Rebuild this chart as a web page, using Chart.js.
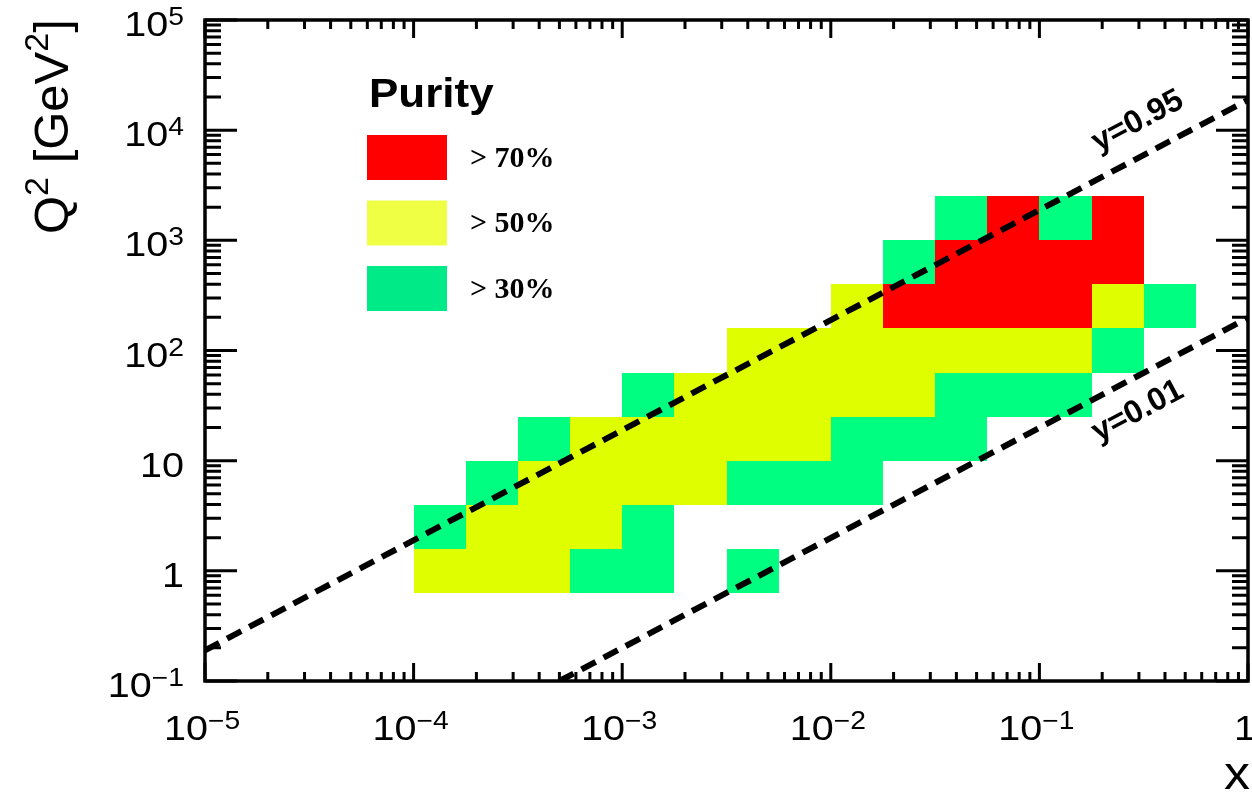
<!DOCTYPE html>
<html>
<head>
<meta charset="utf-8">
<script src="https://cdn.jsdelivr.net/npm/chart.js@4.4.1/dist/chart.umd.min.js"></script>
<style>
  html, body { margin: 0; padding: 0; background: #fff; }
  #wrap { width: 1252px; height: 792px; }
</style>
</head>
<body>
<div id="wrap"><canvas id="purity" width="1252" height="792"></canvas></div>
<script>
// bin edges, log10 units
const logXEdges = [-4, -3.75, -3.5, -3.25, -3, -2.75, -2.5, -2.25, -2, -1.75, -1.5, -1.25, -1, -0.75, -0.5, -0.25, 0]
const logQ2Edges = [-0.2, 0.2, 0.6, 1.0, 1.4, 1.8, 2.2, 2.6, 3.0, 3.4]

// purity class of every bin, lowest Q2 row first: 0 empty, 1 >30%, 2 >50%, 3 >70%
const purityRows = [
  [2, 2, 2, 1, 1, 0, 1, 0, 0, 0, 0, 0, 0, 0, 0, 0],
  [1, 2, 2, 2, 1, 0, 0, 0, 0, 0, 0, 0, 0, 0, 0, 0],
  [0, 1, 2, 2, 2, 2, 1, 1, 1, 0, 0, 0, 0, 0, 0, 0],
  [0, 0, 1, 2, 2, 2, 2, 2, 1, 1, 1, 0, 0, 0, 0, 0],
  [0, 0, 0, 0, 1, 2, 2, 2, 2, 2, 1, 1, 1, 0, 0, 0],
  [0, 0, 0, 0, 0, 0, 2, 2, 2, 2, 2, 2, 2, 1, 0, 0],
  [0, 0, 0, 0, 0, 0, 0, 0, 2, 3, 3, 3, 3, 2, 1, 0],
  [0, 0, 0, 0, 0, 0, 0, 0, 0, 1, 3, 3, 3, 3, 0, 0],
  [0, 0, 0, 0, 0, 0, 0, 0, 0, 0, 1, 3, 1, 3, 0, 0]
]

const purityLabels = ['> 70%', '> 50%', '> 30%']
const purityClasses = [3, 2, 1]

// kinematic limits Q2 = s x y, end points
const y95Line = [{ x: 1e-5, y: 0.19 }, { x: 1, y: 18800 }]
const y01Line = [{ x: 5e-4, y: 0.1 }, { x: 1, y: 198 }]
const lineLabels = [
  { text: 'y=0.95', x: 0.296, y: 12000 },
  { text: 'y=0.01', x: 0.296, y: 28 }
]

const xTickValues = [1e-5, 1e-4, 1e-3, 1e-2, 1e-1, 1]
const xTickLabels = [['10', '\u22125'], ['10', '\u22124'], ['10', '\u22123'], ['10', '\u22122'], ['10', '\u22121'], ['1', '']]
const yTickValues = [0.1, 1, 10, 1e2, 1e3, 1e4, 1e5]
const yTickLabels = [['10', '\u22121'], ['1', ''], ['10', ''], ['10', '2'], ['10', '3'], ['10', '4'], ['10', '5']]

const cellColors = ['', '#00ff80', '#dfff00', '#ff0000']
const legendColors = ['', '#00ea88', '#eeff44', '#ff0000']

const SANS = '"Liberation Sans", Arial, sans-serif'
const SERIF = '"Liberation Serif", "Times New Roman", serif'
const STRETCH = 1.13

// "10" with a raised exponent, slightly widened
const drawPower = (ctx, base, exp, ax, baseline, align) => {
    ctx.font = `35px ${SANS}`
    const wb = ctx.measureText(base).width
    ctx.font = `25px ${SANS}`
    const we = exp ? ctx.measureText(exp).width : 0
    const total = (wb + we) * STRETCH
    let left = ax
    if (align === 'right') left = ax - total
    else if (align === 'center') left = ax - total / 2
    ctx.save()
    ctx.translate(left, baseline)
    ctx.scale(STRETCH, 1)
    ctx.textAlign = 'left'
    ctx.textBaseline = 'alphabetic'
    ctx.font = `35px ${SANS}`
    ctx.fillText(base, 0, 0)
    if (exp) {
        ctx.font = `25px ${SANS}`
        ctx.fillText(exp, wb, -11)
    }
    ctx.restore()
}

const cellPlugin = {
    id: 'purityCells',
    beforeDatasetsDraw: (chart) => {
        const { ctx, scales: { x, y } } = chart
        ctx.save()
        purityRows.forEach((row, j) => {
            const top = Math.round(y.getPixelForValue(10 ** logQ2Edges[j + 1]))
            const bottom = Math.round(y.getPixelForValue(10 ** logQ2Edges[j]))
            row.forEach((cls, i) => {
                if (!cls) return
                const left = Math.round(x.getPixelForValue(10 ** logXEdges[i]))
                const right = Math.round(x.getPixelForValue(10 ** logXEdges[i + 1]))
                ctx.fillStyle = cellColors[cls]
                ctx.fillRect(left, top, right - left, bottom - top)
            })
        })
        ctx.restore()
    }
}

const framePlugin = {
    id: 'rootFrame',
    afterDraw: (chart) => {
        const { ctx, chartArea: a, scales: { x, y } } = chart
        ctx.save()
        ctx.strokeStyle = '#000'
        ctx.fillStyle = '#000'
        ctx.lineWidth = 3.5
        ctx.strokeRect(a.left, a.top, a.right - a.left, a.bottom - a.top)

        // tick marks inside the frame on all four sides
        ctx.lineWidth = 3
        ctx.beginPath()
        for (let e = -5; e < 0; e++) {
            for (let k = 1; k <= 10; k++) {
                const v = k * 10 ** e
                const px = x.getPixelForValue(v)
                const len = (k === 1 || k === 10) ? 18 : 9
                ctx.moveTo(px, a.bottom); ctx.lineTo(px, a.bottom - len)
                ctx.moveTo(px, a.top); ctx.lineTo(px, a.top + len)
            }
        }
        for (let e = -1; e < 5; e++) {
            for (let k = 1; k <= 10; k++) {
                const v = k * 10 ** e
                const py = y.getPixelForValue(v)
                const len = (k === 1 || k === 10) ? 32 : 16
                ctx.moveTo(a.left, py); ctx.lineTo(a.left + len, py)
                ctx.moveTo(a.right, py); ctx.lineTo(a.right - len, py)
            }
        }
        ctx.stroke()

        // tick labels
        xTickValues.forEach((v, i) => {
            const [b, e] = xTickLabels[i]
            drawPower(ctx, b, e, x.getPixelForValue(v) - 3, 740, 'center')
        })
        yTickValues.forEach((v, i) => {
            const [b, e] = yTickLabels[i]
            drawPower(ctx, b, e, 184, y.getPixelForValue(v) + 16, 'right')
        })

        // axis titles
        ctx.save()
        ctx.translate(68, 234)
        ctx.rotate(-Math.PI / 2)
        ctx.textAlign = 'left'
        ctx.textBaseline = 'alphabetic'
        const parts = [['Q', 49, 0], ['2', 34, -20], [' [GeV', 49, 0], ['2', 34, -20], [']', 49, 0]]
        let cx = 0
        parts.forEach(([t, size, dy]) => {
            ctx.font = `${size}px ${SANS}`
            ctx.fillText(t, cx, dy)
            cx += ctx.measureText(t).width
        })
        ctx.restore()

        ctx.save()
        ctx.translate(1250, 789)
        ctx.scale(STRETCH, 1)
        ctx.font = `46px ${SANS}`
        ctx.textAlign = 'right'
        ctx.fillText('x', 0, 0)
        ctx.restore()

        // labels along the kinematic limits
        const p0 = { x: x.getPixelForValue(y95Line[0].x), y: y.getPixelForValue(y95Line[0].y) }
        const p1 = { x: x.getPixelForValue(y95Line[1].x), y: y.getPixelForValue(y95Line[1].y) }
        const angle = Math.atan2(p1.y - p0.y, p1.x - p0.x)
        lineLabels.forEach((l) => {
            ctx.save()
            ctx.translate(x.getPixelForValue(l.x), y.getPixelForValue(l.y))
            ctx.rotate(angle)
            ctx.font = `bold 32px ${SANS}`
            ctx.textAlign = 'center'
            ctx.textBaseline = 'middle'
            ctx.fillText(l.text, 0, 0)
            ctx.restore()
        })
        ctx.restore()
    }
}

const legendPlugin = {
    id: 'purityLegend',
    afterDraw: (chart) => {
        const { ctx } = chart
        ctx.save()
        ctx.fillStyle = '#000'
        ctx.textAlign = 'left'
        ctx.textBaseline = 'alphabetic'
        ctx.save()
        ctx.translate(369, 107)
        ctx.scale(1.1, 1)
        ctx.font = `bold 40px ${SANS}`
        ctx.fillText('Purity', 0, 0)
        ctx.restore()
        purityLabels.forEach((label, i) => {
            const top = 135 + i * 65.5
            ctx.fillStyle = legendColors[purityClasses[i]]
            ctx.fillRect(367, top, 80, 45)
            ctx.fillStyle = '#000'
            ctx.font = `bold 30px ${SERIF}`
            ctx.textBaseline = 'middle'
            ctx.fillText(label, 470, top + 24)
        })
        ctx.restore()
    }
}

new Chart(document.getElementById('purity'), {
    type: 'scatter',
    data: {
        datasets: [
            { label: 'y=0.95', data: y95Line, showLine: true, borderColor: '#000', borderWidth: 6, borderDash: [16, 9], pointRadius: 0 },
            { label: 'y=0.01', data: y01Line, showLine: true, borderColor: '#000', borderWidth: 6, borderDash: [16, 9], pointRadius: 0 }
        ]
    },
    options: {
        responsive: false,
        animation: false,
        layout: { padding: { left: 205, top: 20, right: 4, bottom: 111 } },
        plugins: {
            legend: { display: false },
            tooltip: { enabled: false }
        },
        scales: {
            x: { type: 'logarithmic', min: 1e-5, max: 1, display: false },
            y: { type: 'logarithmic', min: 0.1, max: 1e5, display: false }
        }
    },
    plugins: [cellPlugin, framePlugin, legendPlugin]
})
</script>
</body>
</html>
